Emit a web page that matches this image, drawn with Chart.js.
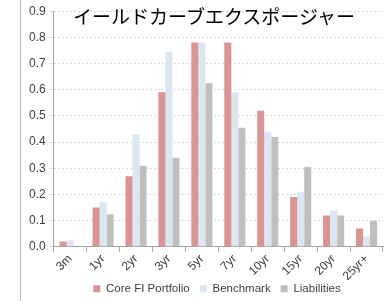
<!DOCTYPE html>
<html><head><meta charset="utf-8">
<script src="https://cdn.jsdelivr.net/npm/chart.js@4/dist/chart.umd.min.js"></script>
<style>
html,body{margin:0;padding:0;background:#fff;}
#wrap{position:relative;width:392px;height:301px;overflow:hidden;}
#frame{position:absolute;left:20px;top:0;width:0;height:301px;border-left:1px solid #bfbfbf;}
#title{position:absolute;left:0;width:428px;top:3px;text-align:center;font-family:"Noto Sans CJK JP";font-size:19px;line-height:26px;color:#000;}
canvas{position:absolute;left:0;top:0;}
</style></head>
<body><div id="wrap"><div id="frame"></div><canvas id="c" width="392" height="301"></canvas><div id="title">イールドカーブエクスポージャー</div></div>
<script>
const categories = ["3m","1yr","2yr","3yr","5yr","7yr","10yr","15yr","20yr","25yr+"];
const coreFI = [0.02,0.15,0.27,0.59,0.78,0.78,0.52,0.19,0.12,0.07];
const benchmark = [0.025,0.17,0.43,0.745,0.78,0.59,0.44,0.21,0.14,0.04];
const liabilities = [0,0.125,0.31,0.34,0.625,0.455,0.42,0.305,0.12,0.1];
const yTicks = [0,0.1,0.2,0.3,0.4,0.5,0.6,0.7,0.8,0.9];
const font = {family:"Liberation Sans", size:12};
const legendFont = {family:"Liberation Sans", size:11.5};
new Chart(document.getElementById('c'), {
  type:'bar',
  data:{labels:categories, datasets:[
    {label:'Core FI Portfolio', data:coreFI, backgroundColor:'#d99594', borderWidth:0},
    {label:'Benchmark', data:benchmark, backgroundColor:'#dce6f2', borderWidth:0},
    {label:'Liabilities', data:liabilities, backgroundColor:'#bfbfbf', borderWidth:0}
  ]},
  options:{
    responsive:false, animation:false,
    layout:{padding:{left:25,right:9,top:11,bottom:-14}},
    datasets:{bar:{categoryPercentage:0.64,barPercentage:1.0}},
    plugins:{
      title:{display:false},
      legend:{position:'bottom', labels:{boxWidth:7, boxHeight:7, font:legendFont, color:'#404040', padding:10}},
      tooltip:{enabled:false}
    },
    scales:{
      x:{grid:{offset:true, drawOnChartArea:false, drawTicks:true, tickLength:5, color:'#a6a6a6'},
         border:{color:'#a6a6a6'},
         ticks:{font:font, color:'#404040', maxRotation:45, minRotation:45, padding:0}},
      y:{min:0,max:0.9,
         afterBuildTicks:(ax)=>{ax.ticks = yTicks.map(v=>({value:v}));},
         grid:{color:'#d9d9d9', tickLength:4, drawTicks:true},
         border:{color:'#a6a6a6', dash:[2,2]},
         ticks:{font:font, color:'#404040', padding:4, callback:(v)=>Number(v).toFixed(1)}}
    }
  },
  plugins:[{id:'legendShift', afterLayout(chart){
    const lg = chart.legend; if(!lg) return;
    lg.left += 13; lg.right += 13;
    const h = lg.bottom - lg.top; lg.top = 273; lg.bottom = 273 + h;
  }}]
});
</script></body></html>
